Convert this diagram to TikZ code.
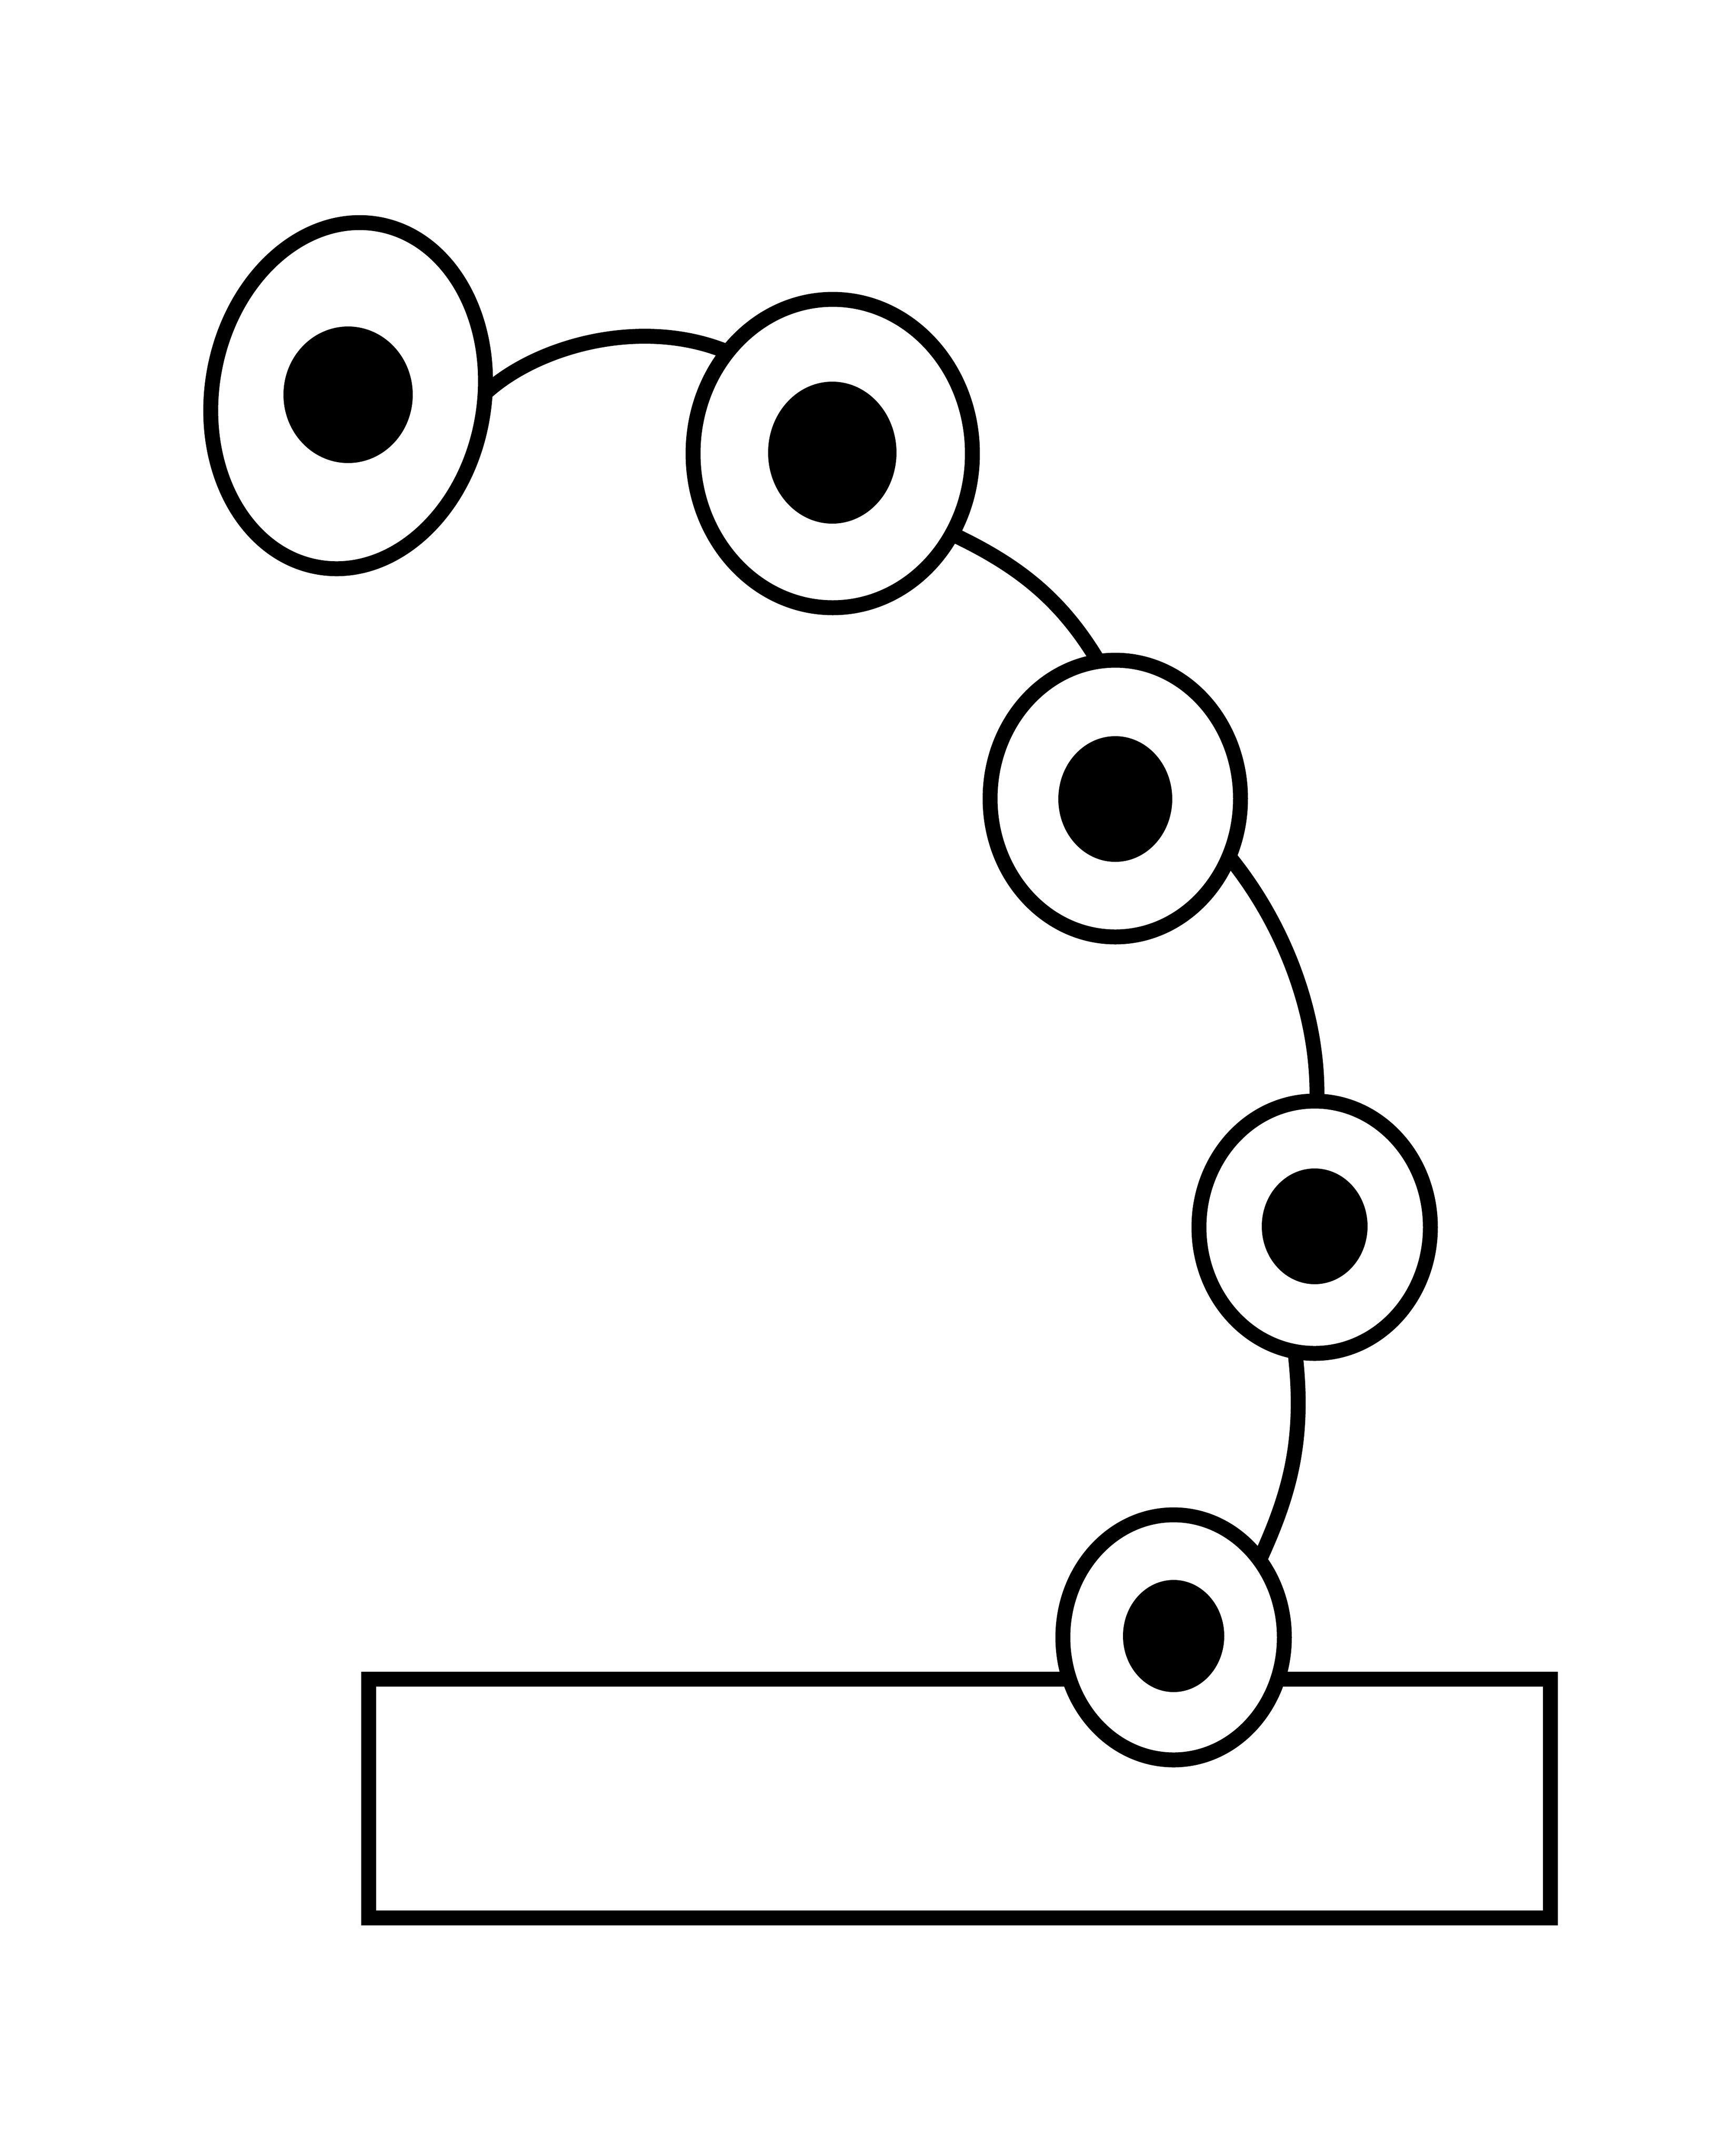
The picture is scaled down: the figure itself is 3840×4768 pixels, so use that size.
\documentclass[tikz,border=0pt]{standalone}
\usetikzlibrary{shapes.geometric}
\pgfdeclarelayer{bg}
\pgfsetlayers{bg,main}
\begin{document}
\begin{tikzpicture}[x=0.1pt,y=-0.1pt,
  ring/.style={ellipse,draw=black,fill=white,line width=3.3pt,inner sep=0pt,outer sep=0pt},
  dot/.style={ellipse,fill=black,inner sep=0pt,outer sep=0pt},
  link/.style={draw=black,line width=3.3pt},
  base/.style={rectangle,draw=black,line width=3.3pt,inner sep=0pt,outer sep=0pt}]
\useasboundingbox (0,0) rectangle (3840,4768);
% rings
\node[ring,minimum width=60.2pt,minimum height=77pt,rotate=-10] (e1) at (770,875) {};
\node[dot,minimum width=28.6pt,minimum height=30.2pt] (d1) at (770,873) {};
\node[ring,minimum width=61.8pt,minimum height=68.2pt] (e2) at (1842,1003) {};
\node[dot,minimum width=28.4pt,minimum height=31.4pt] (d2) at (1841,1001) {};
\node[ring,minimum width=55.4pt,minimum height=61.2pt] (e3) at (2467,1766) {};
\node[dot,minimum width=25.2pt,minimum height=27.8pt] (d3) at (2467,1767) {};
\node[ring,minimum width=51.2pt,minimum height=55.8pt] (e4) at (2908,2714) {};
\node[dot,minimum width=23.4pt,minimum height=25.6pt] (d4) at (2908,2712) {};
\node[base,minimum width=261.4pt,minimum height=52.8pt] (rect) at (2122.5,3977.5) {};
\node[ring,minimum width=49pt,minimum height=54.2pt] (e5) at (2596,3621) {};
\node[dot,minimum width=22.4pt,minimum height=24.8pt] (d5) at (2596,3618) {};
\begin{pgfonlayer}{bg}
\fill[white] (0,0) rectangle (3840,4768);
\draw[link] (e1.11) .. controls (1188,764) and (1420,700) .. (e2.136);
\draw[link] (e2.-34) .. controls (2259,1253) and (2350,1330) .. (e3.97);
\draw[link] (e3.-27) .. controls (2844,2048) and (2918,2250) .. (e4.89);
\draw[link] (e4.-99) .. controls (2887,3180) and (2855,3300) .. (e5.42);
\end{pgfonlayer}
\end{tikzpicture}
\end{document}
